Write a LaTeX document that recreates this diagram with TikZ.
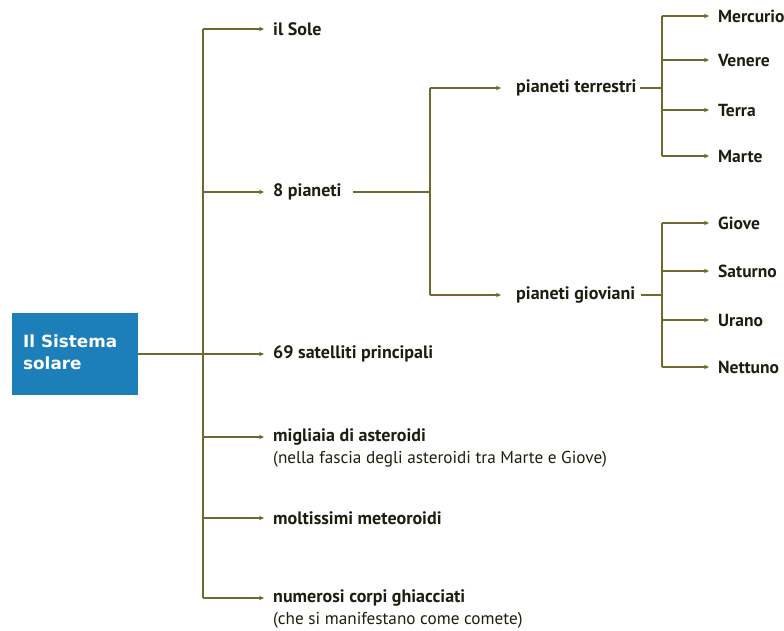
\documentclass[tikz,border=0pt]{standalone}
\usepackage{fontspec}
\setmainfont{PT Sans}
\newfontfamily\boxfont{DejaVu Sans}
\usetikzlibrary{arrows.meta}
\definecolor{olive}{HTML}{6E6A2E}
\definecolor{boxblue}{HTML}{1C7FBA}
\definecolor{ink}{HTML}{1E1E10}
\tikzset{
  lbl/.style={anchor=west,inner sep=0pt,font=\bfseries\fontsize{18}{19}\selectfont,text=ink},
  plan/.style={lbl,font=\bfseries\fontsize{17.5}{19}\selectfont},
  sub/.style={anchor=west,inner sep=0pt,font=\fontsize{17.2}{19}\selectfont,text=ink},
  ln/.style={draw=olive,line width=1.5pt},
  arr/.style={ln,-{Stealth[length=5pt,width=4.5pt]},shorten >=9pt},
  arrw/.style={ln,-{Stealth[length=5pt,width=4.5pt]},shorten >=15pt},
}
\begin{document}
\begin{tikzpicture}[x=1pt,y=-1pt]
\useasboundingbox (0,0) rectangle (784,630);
% root box
\node[fill=boxblue,minimum width=126pt,minimum height=82pt,inner sep=0pt] (root) at (75,354) {};
\node[anchor=north west,inner sep=0pt,align=left,text=white,font=\boxfont\bfseries\fontsize{16.8}{22}\selectfont] (roottxt) at (23,335) {Il Sistema\\solare};
% level 1 labels
\node[lbl] (sole) at (273,29) {il Sole};
\node[lbl] (pian) at (273,192) {8 pianeti};
\node[lbl] (sat) at (273,354) {69 satelliti principali};
\node[lbl] (ast) at (273,437) {migliaia di asteroidi};
\node[sub] (astsub) at (273,459) {(nella fascia degli asteroidi tra Marte e Giove)};
\node[lbl] (met) at (273,518) {moltissimi meteoroidi};
\node[lbl] (cor) at (273,598) {numerosi corpi ghiacciati};
\node[sub] (corsub) at (273,620) {(che si manifestano come comete)};
% level 2
\node[lbl] (ter) at (516,88) {pianeti terrestri};
\node[lbl] (gio) at (516,295) {pianeti gioviani};
% level 3
\node[plan] (mer) at (718,16) {Mercurio};
\node[plan] (ven) at (718,60) {Venere};
\node[plan] (tea) at (718,110) {Terra};
\node[plan] (mar) at (718,156) {Marte};
\node[plan] (gv) at (718,223) {Giove};
\node[plan] (sa) at (718,271) {Saturno};
\node[plan] (ur) at (718,320) {Urano};
\node[plan] (ne) at (718,367) {Nettuno};
% trunk coordinates
\coordinate (t1) at (203,29);
\coordinate (t2) at (203,192);
\coordinate (t4) at (203,437);
\coordinate (t5) at (203,518);
\coordinate (t6) at (203,598);
\draw[ln] (t1) -- (t6);
\draw[arr] (t1) -- (sole.west);
\draw[arr] (t2) -- (pian.west);
\draw[arr] (root.east) -- (sat.west);
\draw[arr] (t4) -- (ast.west);
\draw[arr] (t5) -- (met.west);
\draw[arr] (t6) -- (cor.west);
% 8 pianeti branch
\coordinate (j1) at (430,192);
\coordinate (j1a) at (430,88);
\coordinate (j1b) at (430,295);
\draw[ln] ([xshift=11pt]pian.east) -- (j1);
\draw[ln] (j1a) -- (j1b);
\draw[arrw] (j1a) -- (ter.west);
\draw[arrw] (j1b) -- (gio.west);
% terrestri
\coordinate (k1) at (662,88);
\coordinate (k1a) at (662,16);
\coordinate (k1b) at (662,60);
\coordinate (k1c) at (662,110);
\coordinate (k1d) at (662,156);
\draw[ln] ([xshift=3pt]ter.east) -- (k1);
\draw[ln] (k1a) -- (k1d);
\draw[arr] (k1a) -- (mer.west);
\draw[arr] (k1b) -- (ven.west);
\draw[arr] (k1c) -- (tea.west);
\draw[arr] (k1d) -- (mar.west);
% gioviani
\coordinate (k2) at (662,295);
\coordinate (k2a) at (662,223);
\coordinate (k2b) at (662,271);
\coordinate (k2c) at (662,320);
\coordinate (k2d) at (662,367);
\draw[ln] ([xshift=6pt]gio.east) -- (k2);
\draw[ln] (k2a) -- (k2d);
\draw[arr] (k2a) -- (gv.west);
\draw[arr] (k2b) -- (sa.west);
\draw[arr] (k2c) -- (ur.west);
\draw[arr] (k2d) -- (ne.west);
\end{tikzpicture}
\end{document}
